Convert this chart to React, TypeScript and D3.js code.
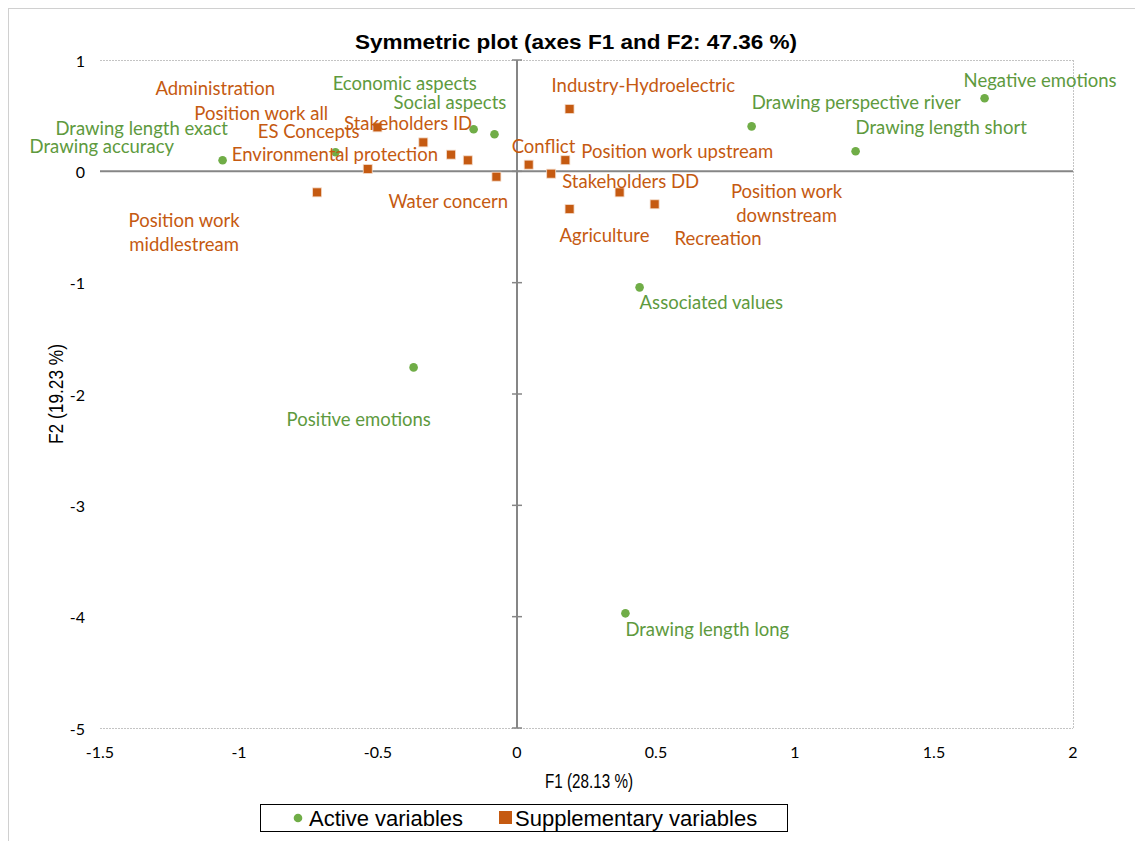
import React from 'react';
import * as d3 from 'd3';

// active variables (green dots)
const activeNames = [
  'Negative emotions', 'Drawing perspective river', 'Drawing length short',
  'Associated values', 'Drawing length long', 'Positive emotions',
  'Drawing accuracy', 'Drawing length exact', 'Economic aspects', 'Social aspects',
];
const activeF1 = [1.682, 0.844, 1.218, 0.441, 0.39, -0.372, -1.059, -0.653, -0.156, -0.081];
const activeF2 = [0.656, 0.404, 0.18, -1.042, -3.97, -1.761, 0.099, 0.171, 0.378, 0.333];

// supplementary variables (orange squares)
const suppNames = [
  'Administration', 'Position work all', 'ES Concepts', 'Stakeholders ID',
  'Environmental protection', 'Water concern', 'Conflict', 'Industry-Hydroelectric',
  'Position work upstream', 'Stakeholders DD', 'Agriculture', 'Recreation',
  'Position work downstream', 'Position work middlestream',
];
const suppF1 = [-0.502, -0.337, -0.537, -0.237, -0.177, -0.074, 0.042, 0.189, 0.174, 0.123, 0.189, 0.495, 0.369, -0.719];
const suppF2 = [0.395, 0.26, 0.021, 0.15, 0.099, -0.048, 0.06, 0.56, 0.1, -0.021, -0.339, -0.296, -0.189, -0.189];

const xTicks = [-1.5, -1, -0.5, 0, 0.5, 1, 1.5, 2];
const yTicks = [1, 0, -1, -2, -3, -4, -5];

// label placement relative to the point, in px (left edge, vertical centre)
const labelOffset: Record<string, [number, number]> = {
  'Negative emotions': [-21, -18],
  'Drawing perspective river': [0, -24],
  'Drawing length short': [0, -24],
  'Associated values': [0, 15],
  'Drawing length long': [0, 16],
  'Positive emotions': [-127, 52],
  'Drawing accuracy': [-193, -14],
  'Drawing length exact': [-280, -24],
  'Economic aspects': [-141, -46],
  'Social aspects': [-101, -32],
  'Administration': [-222, -39],
  'Position work all': [-229, -29],
  'ES Concepts': [-110, -38],
  'Stakeholders ID': [-107, -32],
  'Environmental protection': [-236, -6],
  'Water concern': [-108, 24],
  'Conflict': [-17, -19],
  'Industry-Hydroelectric': [-18, -24],
  'Position work upstream': [16, -9],
  'Stakeholders DD': [11, 7],
  'Agriculture': [-10, 26],
  'Recreation': [20, 34],
  'Position work downstream': [167, -1],
  'Position work middlestream': [-133, 28],
};
const labelLines: Record<string, string[]> = {
  'Position work downstream': ['Position work', 'downstream'],
  'Position work middlestream': ['Position work', 'middlestream'],
};

const GREEN = '#70AD47';
const GREEN_TXT = '#5E9A3E';
const ORANGE = '#C55A11';

const width = 1135;
const height = 841;
const margin = { top: 60, right: 62, bottom: 113, left: 100 };

const Label = ({ name, px, py, color }: { name: string; px: number; py: number; color: string }) => {
  const [dx, dy] = labelOffset[name];
  const lines = labelLines[name];
  if (lines) {
    return (
      <text x={px + dx} y={py + dy} fill={color} textAnchor="middle" dominantBaseline="central"
        fontFamily="Lato, sans-serif" fontSize={18.5}>
        {lines.map((l, i) => (
          <tspan key={i} x={px + dx} dy={i === 0 ? 0 : 24}>{l}</tspan>
        ))}
      </text>
    );
  }
  return (
    <text x={px + dx} y={py + dy} fill={color} dominantBaseline="central"
      fontFamily="Lato, sans-serif" fontSize={18.5}>{name}</text>
  );
};

export default function App() {
  const x = d3.scaleLinear().domain([-1.5, 2]).range([margin.left, width - margin.right]);
  const y = d3.scaleLinear().domain([-5, 1]).range([height - margin.bottom, margin.top]);
  const [x0, x1] = x.range();
  const [y0, y1] = y.range();

  return (
    <svg width={width} height={height} style={{ position: 'absolute', left: 0, top: 0, background: '#fff' }}>
      {/* chart area frame */}
      <line x1={8.5} x2={8.5} y1={8} y2={height} stroke="#d0d0d0" />
      <line x1={8} x2={width} y1={8.5} y2={8.5} stroke="#d0d0d0" />

      <text x={576} y={49} textAnchor="middle" fontFamily="'Liberation Sans', Arial, sans-serif"
        fontWeight="bold" fontSize={21} textLength={442} lengthAdjust="spacingAndGlyphs">
        Symmetric plot (axes F1 and F2: 47.36 %)
      </text>

      {/* plot frame */}
      <g stroke="#c4c4c4" strokeDasharray="2 1" fill="none">
        <line x1={x0} x2={x1} y1={y(1) + 0.5} y2={y(1) + 0.5} />
        <line x1={x0} x2={x1} y1={y(-5) + 0.5} y2={y(-5) + 0.5} />
        <line x1={x1 + 0.5} x2={x1 + 0.5} y1={y1} y2={y0} />
      </g>

      {/* zero axes */}
      <line x1={x0} x2={x1} y1={y(0)} y2={y(0)} stroke="#868686" strokeWidth={2} />
      <line x1={x(0)} x2={x(0)} y1={y1} y2={y0} stroke="#868686" strokeWidth={2} />
      {yTicks.map(t => (
        <line key={t} x1={x(0) - 5} x2={x(0) + 5} y1={y(t)} y2={y(t)} stroke="#868686" strokeWidth={1.5} />
      ))}

      {/* tick labels */}
      {yTicks.map(t => (
        <text key={t} x={85} y={y(t)} textAnchor="end" dominantBaseline="central"
          fontFamily="Lato, sans-serif" fontSize={16}>{t}</text>
      ))}
      {xTicks.map(t => (
        <text key={t} x={x(t)} y={751} textAnchor="middle" dominantBaseline="central"
          fontFamily="Lato, sans-serif" fontSize={16}>{t}</text>
      ))}

      <text x={589} y={788} textAnchor="middle" fontFamily="'Liberation Sans', Arial, sans-serif"
        fontSize={21} textLength={88} lengthAdjust="spacingAndGlyphs">F1 (28.13 %)</text>
      <text transform={`translate(63,${(y0 + y1) / 2}) rotate(-90)`} textAnchor="middle"
        fontFamily="'Liberation Sans', Arial, sans-serif" fontSize={21} textLength={100}
        lengthAdjust="spacingAndGlyphs">F2 (19.23 %)</text>

      {/* supplementary variables */}
      {suppNames.map((n, i) => (
        <rect key={n} x={x(suppF1[i]) - 4.5} y={y(suppF2[i]) - 4.5} width={9} height={9}
          fill={ORANGE} stroke="#f4dccb" strokeWidth={0.8} />
      ))}
      {/* active variables */}
      {activeNames.map((n, i) => (
        <circle key={n} cx={x(activeF1[i])} cy={y(activeF2[i])} r={4.3} fill={GREEN} />
      ))}

      {suppNames.map((n, i) => (
        <Label key={n} name={n} px={x(suppF1[i])} py={y(suppF2[i])} color={ORANGE} />
      ))}
      {activeNames.map((n, i) => (
        <Label key={n} name={n} px={x(activeF1[i])} py={y(activeF2[i])} color={GREEN_TXT} />
      ))}

      {/* legend */}
      <rect x={260.5} y={804.5} width={527} height={27} fill="#fff" stroke="#000" strokeWidth={1} />
      <circle cx={298} cy={818} r={4.3} fill={GREEN} />
      <text x={309} y={818} dominantBaseline="central" fontFamily="'Liberation Sans', Arial, sans-serif"
        fontSize={22}>Active variables</text>
      <rect x={499} y={811} width={13} height={13} fill={ORANGE} />
      <text x={515} y={818} dominantBaseline="central" fontFamily="'Liberation Sans', Arial, sans-serif"
        fontSize={22}>Supplementary variables</text>
    </svg>
  );
}
